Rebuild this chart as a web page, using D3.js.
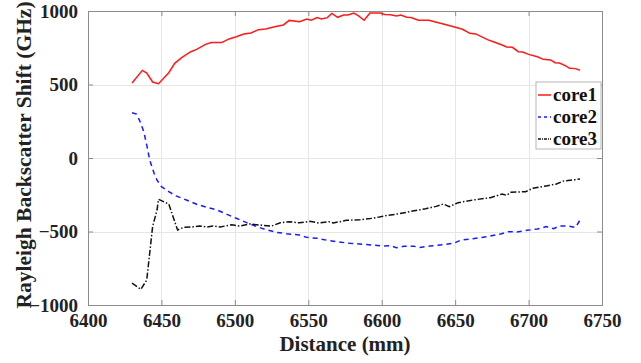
<!DOCTYPE html>
<html>
<head>
<meta charset="utf-8">
<script src="https://cdn.jsdelivr.net/npm/d3@7"></script>
<style>
  body { margin: 0; background: #fff; }
  svg { display: block; }
</style>
</head>
<body>
<svg id="chart"></svg>
<script>
// values
const core1X = [6430, 6437, 6440, 6444, 6448, 6455, 6459, 6464, 6470, 6474, 6480, 6484, 6491, 6496, 6501, 6506, 6511, 6516, 6521, 6527, 6533, 6537, 6544, 6549, 6552, 6556, 6559, 6563, 6566, 6570, 6574, 6577, 6581, 6584, 6588, 6592, 6599, 6602, 6606, 6610, 6613, 6617, 6620, 6625, 6632, 6640, 6649, 6655, 6660, 6664, 6672, 6676, 6682, 6685, 6689, 6693, 6696, 6700, 6706, 6710, 6715, 6718, 6721, 6725, 6728, 6732, 6735];
const core1Y = [510, 596, 578, 517, 505, 580, 644, 685, 723, 739, 773, 785, 785, 810, 825, 843, 850, 873, 878, 893, 905, 936, 927, 946, 937, 955, 946, 955, 984, 957, 973, 973, 986, 968, 937, 986, 986, 977, 975, 966, 973, 957, 955, 937, 937, 916, 893, 876, 848, 844, 805, 791, 769, 755, 753, 723, 721, 705, 689, 671, 667, 648, 646, 628, 610, 608, 597];

const core2X = [6430, 6433, 6435, 6438, 6440, 6442, 6445, 6447, 6450, 6455, 6460, 6467, 6474, 6481, 6488, 6494, 6501, 6508, 6515, 6522, 6528, 6535, 6544, 6549, 6556, 6563, 6569, 6578, 6588, 6594, 6601, 6606, 6610, 6615, 6622, 6626, 6633, 6642, 6649, 6654, 6662, 6672, 6681, 6686, 6692, 6699, 6706, 6712, 6717, 6721, 6727, 6732, 6735];
const core2Y = [308, 299, 258, 179, 88, -14, -104, -150, -195, -229, -258, -286, -315, -336, -354, -381, -410, -440, -467, -490, -505, -515, -524, -540, -546, -560, -569, -580, -587, -592, -599, -597, -610, -601, -601, -608, -599, -590, -580, -558, -549, -535, -517, -501, -503, -492, -483, -467, -481, -463, -463, -472, -422];

const core3X = [6430, 6436, 6440, 6442, 6444, 6447, 6448, 6455, 6461, 6465, 6471, 6476, 6481, 6485, 6490, 6498, 6503, 6510, 6517, 6525, 6531, 6537, 6544, 6551, 6557, 6564, 6567, 6576, 6585, 6594, 6603, 6612, 6621, 6630, 6637, 6642, 6646, 6652, 6662, 6674, 6682, 6685, 6688, 6698, 6703, 6712, 6719, 6724, 6730, 6735];
const core3Y = [-852, -893, -830, -648, -467, -354, -281, -313, -490, -472, -469, -463, -469, -463, -469, -454, -463, -449, -456, -463, -440, -434, -441, -431, -442, -433, -442, -424, -420, -410, -392, -379, -361, -345, -329, -313, -331, -304, -286, -270, -245, -254, -233, -229, -206, -190, -177, -156, -150, -143];

const seriesNames = ["core1", "core2", "core3"];
const seriesColors = ["#ff1a1a", "#1a1aff", "#111111"];
const seriesDash = [null, "5,4", "6,2,1.5,2"];

const xTicks = [6400, 6450, 6500, 6550, 6600, 6650, 6700, 6750];
const yTicks = [-1000, -500, 0, 500, 1000];

const W = 641, H = 363;
const margin = { top: 11, right: 39, bottom: 58, left: 88 };
const innerW = W - margin.left - margin.right;
const innerH = H - margin.top - margin.bottom;

const font = "'Liberation Serif', 'Times New Roman', serif";

const svg = d3.select("#chart")
    .attr("width", W)
    .attr("height", H)
    .attr("font-family", font);

const x = d3.scaleLinear().domain([6400, 6750]).range([margin.left, margin.left + innerW]);
const y = d3.scaleLinear().domain([-1000, 1000]).range([margin.top + innerH, margin.top]);

// grid
const grid = svg.append("g").attr("stroke", "#e6e6e6").attr("stroke-width", 1);
grid.selectAll("line.gx")
    .data(xTicks.slice(1, -1))
    .join("line")
    .attr("x1", d => Math.round(x(d)) + 0.5).attr("x2", d => Math.round(x(d)) + 0.5)
    .attr("y1", margin.top).attr("y2", margin.top + innerH);
grid.selectAll("line.gy")
    .data(yTicks.slice(1, -1))
    .join("line")
    .attr("y1", d => Math.round(y(d)) + 0.5).attr("y2", d => Math.round(y(d)) + 0.5)
    .attr("x1", margin.left).attr("x2", margin.left + innerW);

// axes (ticks pointing inward, matlab style)
const axisColor = "#8c8c8c";
const xAxis = svg.append("g")
    .attr("transform", `translate(0,${margin.top + innerH})`)
    .call(d3.axisBottom(x).tickValues(xTicks).tickSize(-5).tickPadding(9).tickFormat(d3.format("d")));
const xAxisTop = svg.append("g")
    .attr("transform", `translate(0,${margin.top})`)
    .call(d3.axisTop(x).tickValues(xTicks).tickSize(-5).tickFormat(""));
const yAxis = svg.append("g")
    .attr("transform", `translate(${margin.left},0)`)
    .call(d3.axisLeft(y).tickValues(yTicks).tickSize(-5).tickPadding(10).tickFormat(d3.format("d")));
const yAxisRight = svg.append("g")
    .attr("transform", `translate(${margin.left + innerW},0)`)
    .call(d3.axisRight(y).tickValues(yTicks).tickSize(-5).tickFormat(""));

[xAxis, xAxisTop, yAxis, yAxisRight].forEach(g => {
    g.selectAll(".domain").attr("stroke", axisColor);
    g.selectAll(".tick line").attr("stroke", axisColor);
    g.selectAll("text")
        .attr("font-family", font)
        .attr("font-weight", "bold")
        .attr("font-size", 19)
        .attr("fill", "#222");
});

// lines
const seriesData = [
    d3.zip(core1X, core1Y),
    d3.zip(core2X, core2Y),
    d3.zip(core3X, core3Y)
];
const line = d3.line().x(d => x(d[0])).y(d => y(d[1]));

svg.append("g")
    .selectAll("path")
    .data(seriesData)
    .join("path")
    .attr("d", line)
    .attr("fill", "none")
    .attr("stroke", (d, i) => seriesColors[i])
    .attr("stroke-width", 1.5)
    .attr("stroke-dasharray", (d, i) => seriesDash[i]);

// axis titles
svg.append("text")
    .attr("x", margin.left + innerW / 2)
    .attr("y", 351)
    .attr("text-anchor", "middle")
    .attr("font-weight", "bold")
    .attr("font-size", 21)
    .attr("fill", "#222")
    .text("Distance (mm)");

svg.append("text")
    .attr("transform", "translate(31,155) rotate(-90)")
    .attr("text-anchor", "middle")
    .attr("font-weight", "bold")
    .attr("font-size", 21.5)
    .attr("fill", "#222")
    .text("Rayleigh Backscatter Shift (GHz)");

// legend
const legend = svg.append("g").attr("transform", "translate(536,82)");
legend.append("rect")
    .attr("width", 65).attr("height", 67)
    .attr("fill", "#fff")
    .attr("stroke", "#b5b5b5");
const item = legend.selectAll("g.item")
    .data(seriesNames)
    .join("g")
    .attr("transform", (d, i) => `translate(0,${13 + i * 22})`);
item.append("line")
    .attr("x1", 2).attr("x2", 15)
    .attr("stroke", (d, i) => seriesColors[i])
    .attr("stroke-width", 1.5)
    .attr("stroke-dasharray", (d, i) => i == 1 ? "3,3" : (i == 2 ? "3,1,1,1" : null));
item.append("text")
    .attr("x", 17)
    .attr("dy", "0.32em")
    .attr("font-weight", "bold")
    .attr("font-size", 19)
    .attr("fill", "#111")
    .text(d => d);
</script>
</body>
</html>
